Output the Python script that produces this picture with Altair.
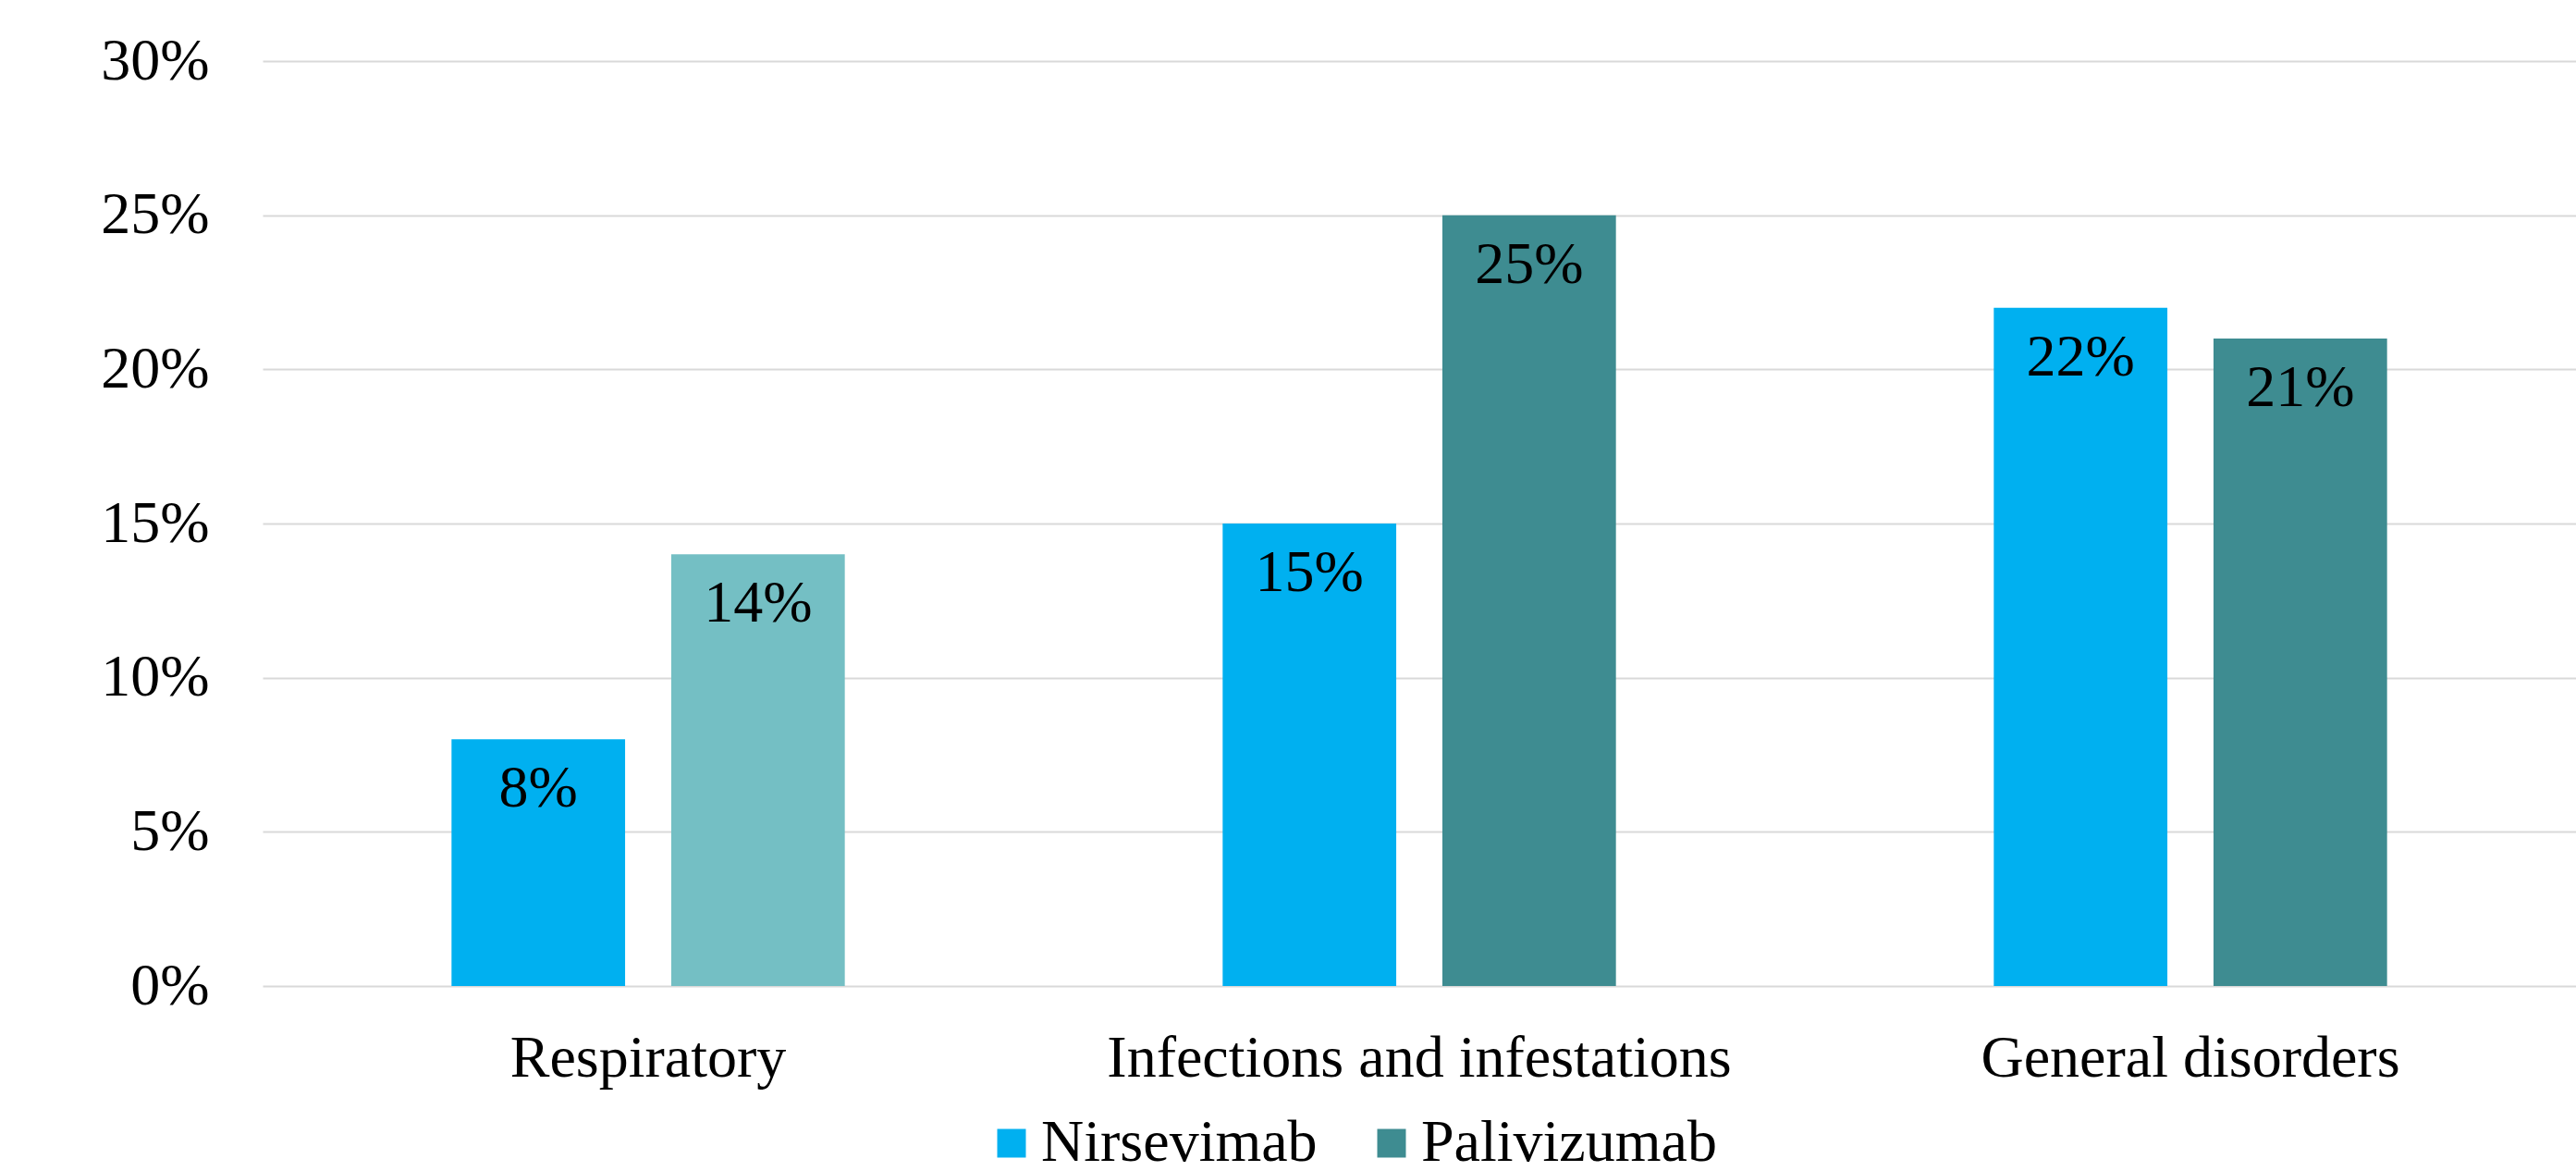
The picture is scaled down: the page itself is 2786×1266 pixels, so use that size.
import altair as alt
import pandas as pd

categories = ["Respiratory", "Infections and infestations", "General disorders"]
series_names = ["Nirsevimab", "Palivizumab"]
nirsevimab = [0.08, 0.15, 0.22]
palivizumab = [0.14, 0.25, 0.21]
y_ticks = [0.0, 0.05, 0.10, 0.15, 0.20, 0.25, 0.30]
series_colors = ["#00B0F0", "#3E8C91"]
highlight_color = "#74BFC4"

rows = []
for c, n, p in zip(categories, nirsevimab, palivizumab):
    rows.append({"category": c, "series": "Nirsevimab", "value": n})
    rows.append({"category": c, "series": "Palivizumab", "value": p})
df = pd.DataFrame(rows)

FONT = "Liberation Serif"
FS = 64

x = alt.X(
    "category:N", sort=categories, title=None,
    scale=alt.Scale(paddingInner=0.49, paddingOuter=0.245),
    axis=alt.Axis(labelAngle=0, labelFontSize=FS, labelFont=FONT, labelColor="black",
                  labelPadding=46, labelLimit=1500, ticks=False, domain=False, grid=False),
)
xo = alt.XOffset("series:N", sort=series_names, scale=alt.Scale(paddingInner=0.21))
y = alt.Y(
    "value:Q", scale=alt.Scale(domain=[0, 0.3], nice=False),
    axis=alt.Axis(values=y_ticks, format=".0%", title=None, labelFontSize=FS, labelFont=FONT,
                  labelColor="black", labelPadding=58, ticks=False, domain=False,
                  gridColor="#D9D9D9", gridWidth=2),
)

color = alt.condition(
    "datum.category == 'Respiratory' && datum.series == 'Palivizumab'",
    alt.value(highlight_color),
    alt.Color(
        "series:N",
        scale=alt.Scale(domain=series_names, range=series_colors),
        legend=alt.Legend(
            orient="none", legendX=778, legendY=1138, direction="horizontal", title=None,
            labelFontSize=FS, labelFont=FONT, labelColor="black", labelLimit=1500,
            symbolType="square", symbolSize=960, symbolStrokeWidth=0, labelOffset=0,
            columnPadding=48, padding=0,
        ),
    ),
)

bars = alt.Chart(df).mark_bar().encode(x=x, xOffset=xo, y=y, color=color)
text = alt.Chart(df).mark_text(baseline="middle", dy=54, fontSize=FS, font=FONT, color="black").encode(
    x=x, xOffset=xo, y=y, text=alt.Text("value:Q", format=".0%")
)

chart = alt.layer(bars, text).properties(
    width=2502, height=1000,
    padding={"left": 284, "top": 66, "right": 0, "bottom": 200},
    autosize=alt.AutoSizeParams(type="none"),
    background="white",
).configure_view(stroke=None)

chart.save("out.html", embed_options={"renderer": "svg", "actions": False})
